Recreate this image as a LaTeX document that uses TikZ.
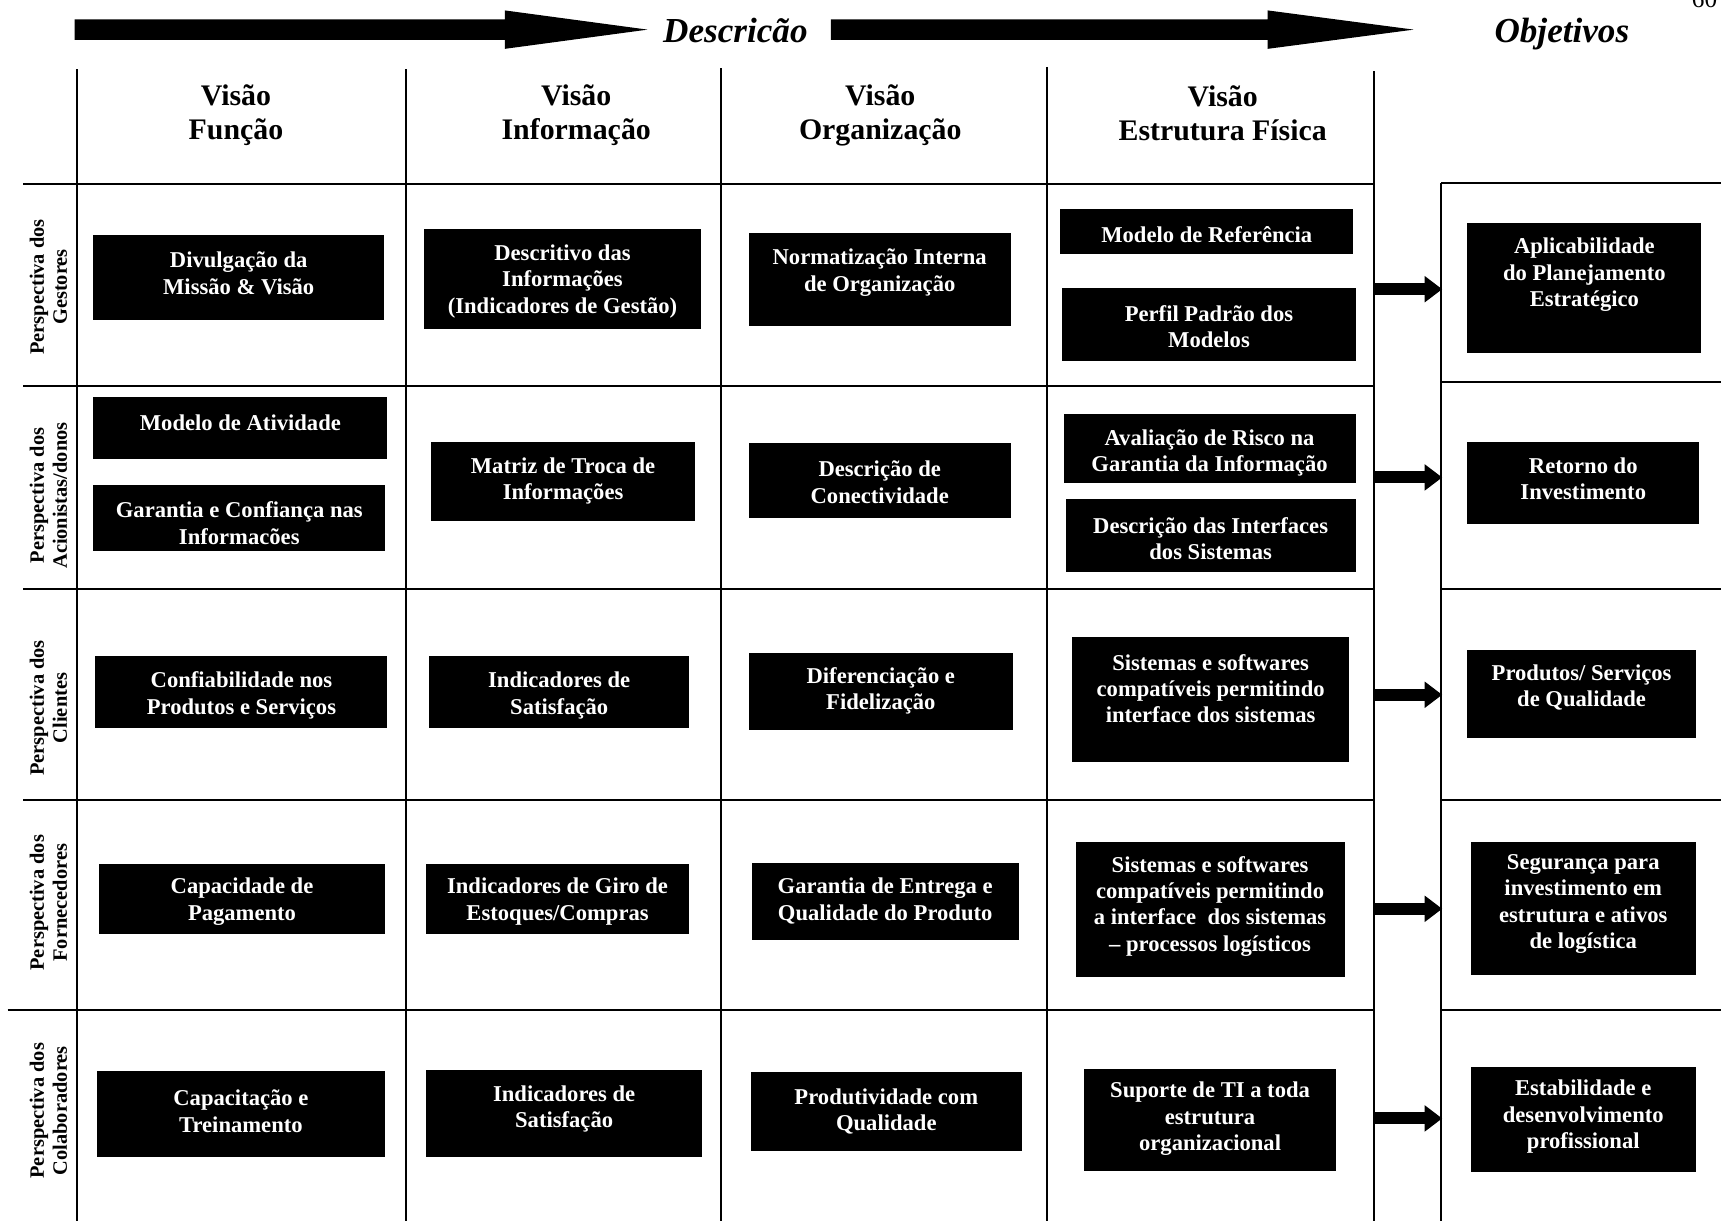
\documentclass[tikz,border=0pt]{standalone}
\usepackage{fontspec}
\setmainfont{Liberation Serif}
\usetikzlibrary{arrows.meta}

\tikzset{
  gridline/.style={line width=0.9pt, black},
  blk/.style={fill=black},
  boxtext/.style={text=white, font=\bfseries\fontsize{10.3}{12}\selectfont, align=center, inner sep=0pt},
  headtext/.style={font=\bfseries\fontsize{13.6}{15.5}\selectfont, align=center, inner sep=0pt},
  sidetext/.style={font=\bfseries\fontsize{9.3}{10.5}\selectfont, align=center, inner sep=0pt, rotate=90},
  titletext/.style={font=\bfseries\itshape\fontsize{16}{18}\selectfont, inner sep=0pt, anchor=base},
  smallarrow/.style={line width=5.5pt, -{Triangle[length=8pt, width=11.5pt]}},
}

% black box with white label: name, left, top, right, bottom, label y, label
\newcommand\blkbox[7]{%
  \fill[blk] (#2,#3) rectangle (#4,#5);
  \node[boxtext] (#1) at ({(#2+#4)/2},{#6+2.5}) {#7};}

\begin{document}
\begin{tikzpicture}[x=0.5pt,y=-0.5pt]
\useasboundingbox (0,0) rectangle (1568,1112);

% page number
\node[font=\fontsize{11.5}{12}\selectfont, anchor=base, inner sep=0pt] (pg) at (1553,6.5) {60};

% flow arrows and titles
\coordinate (a1s) at (68,27);
\coordinate (a1e) at (590,27);
\coordinate (a2s) at (757,27);
\coordinate (a2e) at (1288,27);
\fill (a1s) ++(0,-9.25) -- ++(392,0) -- ++(0,-8.25) -- (a1e)
      -- ++(-130,17.5) -- ++(0,-8.25) -- ++(-392,0) -- cycle;
\fill (a2s) ++(0,-9.25) -- ++(398,0) -- ++(0,-8.25) -- (a2e)
      -- ++(-133,17.5) -- ++(0,-8.25) -- ++(-398,0) -- cycle;
\node[titletext] (desc) at (670,38.5) {Descricão};
\node[titletext] (obj) at (1423,39) {Objetivos};

% matrix grid
\draw[gridline] (70,63) -- (70,1112);
\draw[gridline] (370,63) -- (370,1112);
\draw[gridline] (657,62) -- (657,1112);
\draw[gridline] (954,61) -- (954,1112);
\draw[gridline] (1252,65) -- (1252,1112);
\draw[gridline] (21,168) -- (1252,168);
\draw[gridline] (21,352) -- (1252,352);
\draw[gridline] (21,537) -- (1252,537);
\draw[gridline] (21,729) -- (1252,729);
\draw[gridline] (7,920) -- (1252,920);

% objectives column
\draw[gridline] (1313,167) -- (1313,1112);
\draw[gridline] (1313,167) -- (1568,167);
\draw[gridline] (1313,348) -- (1568,348);
\draw[gridline] (1313,537) -- (1568,537);
\draw[gridline] (1313,729) -- (1568,729);
\draw[gridline] (1313,920) -- (1568,920);

% column headers
\node[headtext] (h1) at (215,105) {Visão\\Função};
\node[headtext] (h2) at (525,105) {Visão\\Informação};
\node[headtext] (h3) at (802,105) {Visão\\Organização};
\node[headtext] (h4) at (1114,103) {Visão\\Estrutura Física};

% row labels
\node[sidetext] (r1) at (44,261.5) {Perspectiva dos\\Gestores};
\node[sidetext] (r2) at (44,451.5) {Perspectiva dos\\Acionistas/donos};
\node[sidetext] (r3) at (44,645) {Perspectiva dos\\Clientes};
\node[sidetext] (r4) at (44,822.5) {Perspectiva dos\\Fornecedores};
\node[sidetext] (r5) at (44,1012) {Perspectiva dos\\Colaboradores};

% row 1
\blkbox{g1}{85}{214}{350}{292}{246.5}{Divulgação da\\Missão \& Visão}
\blkbox{g2}{386}{209}{639}{300}{254}{Descritivo das\\Informações\\(Indicadores de Gestão)}
\blkbox{g3}{682}{212}{921}{297}{246}{Normatização Interna\\de Organização}
\blkbox{g4a}{966}{190}{1233}{231}{211}{Modelo de Referência}
\blkbox{g4b}{968}{262}{1235}{329}{295}{Perfil Padrão dos\\Modelos}
\blkbox{go}{1337}{203}{1550}{322}{248}{Aplicabilidade\\do Planejamento\\Estratégico}

% row 2
\blkbox{a1a}{85}{362}{353}{418}{383}{Modelo de Atividade}
\blkbox{a1b}{85}{442}{351}{502}{474}{Garantia e Confiança nas\\Informacões}
\blkbox{a2}{393}{403}{633}{475}{435.5}{Matriz de Troca de\\Informações}
\blkbox{a3}{682}{404}{921}{472}{437}{Descrição de\\Conectividade}
\blkbox{a4a}{969}{377}{1235}{440}{410}{Avaliação de Risco na\\Garantia da Informação}
\blkbox{a4b}{971}{455}{1235}{521}{488}{Descrição das Interfaces\\dos Sistemas}
\blkbox{ao}{1337}{403}{1548}{477}{434}{Retorno do\\Investimento}

% row 3
\blkbox{c1}{87}{598}{353}{663}{631}{Confiabilidade nos\\Produtos e Serviços}
\blkbox{c2}{391}{598}{628}{663}{631}{Indicadores de\\Satisfação}
\blkbox{c3}{682}{595}{923}{665}{627}{Diferenciação e\\Fidelização}
\blkbox{c4}{977}{580}{1229}{694}{625}{Sistemas e softwares\\compatíveis permitindo\\interface dos sistemas}
\blkbox{co}{1337}{592}{1545}{672}{624}{Produtos/ Serviços\\de Qualidade}

% row 4
\blkbox{f1}{90}{787}{351}{851}{819}{Capacidade de\\Pagamento}
\blkbox{f2}{388}{787}{628}{851}{819}{Indicadores de Giro de\\Estoques/Compras}
\blkbox{f3}{685}{786}{928}{856}{818.5}{Garantia de Entrega e\\Qualidade do Produto}
\blkbox{f4}{980}{767}{1225}{890}{823}{Sistemas e softwares\\compatíveis permitindo\\a interface\ \ dos sistemas\\– processos logísticos}
\blkbox{fo}{1340}{767}{1545}{888}{821}{Segurança para\\investimento em\\estrutura e ativos\\de logística}

% row 5
\blkbox{k1}{88}{976}{351}{1054}{1010}{Capacitação e\\Treinamento}
\blkbox{k2}{388}{975}{640}{1054}{1008}{Indicadores de\\Satisfação}
\blkbox{k3}{684}{977}{931}{1049}{1010}{Produtividade com\\Qualidade}
\blkbox{k4}{988}{974}{1217}{1067}{1017}{Suporte de TI a toda\\estrutura\\organizacional}
\blkbox{ko}{1340}{972}{1545}{1068}{1015}{Estabilidade e\\desenvolvimento\\profissional}

% arrows from each row to its objective
\foreach \n/\y in {1/263.5,2/435,3/633,4/828,5/1019}{
  \coordinate (out\n) at (1251,\y);
  \coordinate (in\n) at (1314,\y);
  \draw[smallarrow] (out\n) -- (in\n);
}
\end{tikzpicture}
\end{document}
